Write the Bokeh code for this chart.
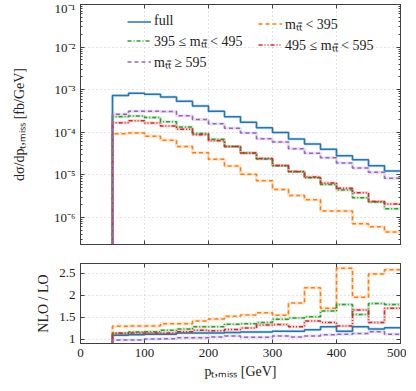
from bokeh.plotting import figure
from bokeh.layouts import column
from bokeh.models import (Legend, LegendItem, LogAxis, LinearAxis, FixedTicker,
                          CustomJSTickFormatter, Range1d, LogTicker)
from bokeh.embed import file_html
from bokeh.resources import INLINE

# ---------------- data ----------------
edges = [25, 50, 75, 100, 125, 150, 175, 200, 225, 250, 275, 300, 325, 350,
         375, 400, 425, 450, 475, 500]

xs_full = [0, 7.3e-4, 8.2e-4, 7.8e-4, 6.7e-4, 5.3e-4, 4.1e-4, 3.1e-4, 2.3e-4,
           1.72e-4, 1.28e-4, 9.8e-5, 6.9e-5, 5.3e-5, 4.0e-5, 2.8e-5, 2.25e-5,
           1.62e-5, 1.23e-5]
xs_lt395 = [0, 9.2e-5, 9.6e-5, 8.0e-5, 6.5e-5, 4.6e-5, 3.3e-5, 2.3e-5, 1.6e-5,
            1.03e-5, 7.2e-6, 4.5e-6, 3.25e-6, 2.6e-6, 1.4e-6, 1.4e-6, 7.1e-7,
            6.0e-7, 4.5e-7]
xs_395_495 = [0, 2.3e-4, 2.4e-4, 2.2e-4, 1.75e-4, 1.33e-4, 9.3e-5, 6.8e-5,
              4.6e-5, 3.25e-5, 2.35e-5, 1.63e-5, 1.18e-5, 8.5e-6, 5.9e-6,
              4.4e-6, 2.9e-6, 2.3e-6, 1.6e-6]
xs_495_595 = [0, 1.66e-4, 1.85e-4, 1.65e-4, 1.4e-4, 1.17e-4, 8.7e-5, 6.3e-5,
              4.6e-5, 3.25e-5, 2.4e-5, 1.66e-5, 1.2e-5, 8.9e-6, 6.4e-6, 4.8e-6,
              3.8e-6, 2.35e-6, 2.05e-6]
xs_ge595 = [0, 2.65e-4, 3.1e-4, 3.1e-4, 3.05e-4, 2.45e-4, 2.0e-4, 1.58e-4,
            1.23e-4, 9.6e-5, 7.0e-5, 5.9e-5, 4.1e-5, 3.2e-5, 2.5e-5, 1.9e-5,
            1.45e-5, 1.15e-5, 8.3e-6]

r_full = [0, 1.09, 1.10, 1.11, 1.11, 1.14, 1.14, 1.14, 1.15, 1.16, 1.16, 1.18,
          1.18, 1.21, 1.28, 1.18, 1.28, 1.23, 1.26]
r_lt395 = [0, 1.29, 1.30, 1.30, 1.35, 1.35, 1.41, 1.46, 1.52, 1.55, 1.60, 1.54,
           1.82, 2.17, 1.70, 2.61, 1.95, 2.48, 2.58]
r_395_495 = [0, 1.14, 1.16, 1.17, 1.20, 1.23, 1.28, 1.28, 1.34, 1.35, 1.38,
             1.45, 1.48, 1.51, 1.64, 1.79, 1.56, 1.81, 1.79]
r_495_595 = [0, 1.13, 1.14, 1.14, 1.14, 1.17, 1.20, 1.19, 1.22, 1.25, 1.32,
             1.33, 1.28, 1.41, 1.38, 1.30, 1.66, 1.38, 1.70]
r_ge595 = [0, 0.98, 0.98, 1.00, 1.01, 1.03, 1.03, 1.05, 1.07, 1.04, 1.04, 1.07,
           1.05, 1.07, 1.10, 1.11, 1.13, 1.17, 1.11]

labels = ["full", "mₜₜ̄ < 395", "395 ≤ mₜₜ̄ < 495", "495 ≤ mₜₜ̄ < 595",
          "mₜₜ̄ ≥ 595"]
colors = ["#1f77b4", "#ff7f0e", "#2ca02c", "#d62728", "#9467bd"]
dashes = ["solid", "4 3", "4 2 1 2", "4 2 1 2 1 2", "4 3"]

x_ticks = [0, 100, 200, 300, 400, 500]
r_ticks = [1, 1.5, 2, 2.5]
r_tick_labels = {1: "1", 1.5: "1.5", 2: "2", 2.5: "2.5"}

FONT = "Liberation Serif"
AXC = "#404040"
GRIDC = "#c8c8c8"

tops = [xs_full, xs_lt395, xs_395_495, xs_495_595, xs_ge595]
rats = [r_full, r_lt395, r_395_495, r_495_595, r_ge595]

blank_fmt = CustomJSTickFormatter(code="return '';")


def style_axis(ax, labels=True):
    ax.axis_line_color = AXC
    ax.major_tick_line_color = AXC
    ax.minor_tick_line_color = AXC
    ax.major_tick_in = 4
    ax.major_tick_out = 0
    ax.minor_tick_in = 2
    ax.minor_tick_out = 0
    ax.major_label_text_font = FONT
    ax.major_label_text_font_size = "13px"
    ax.major_label_text_color = "#222222"
    ax.axis_label_text_font = FONT
    ax.axis_label_text_font_size = "14px"
    ax.axis_label_text_font_style = "normal"
    ax.axis_label_text_color = "#222222"
    if not labels:
        ax.formatter = blank_fmt
        ax.major_label_standoff = 0


sup_fmt = CustomJSTickFormatter(code="""
const e = Math.round(Math.log10(tick));
const sup = {"-":"\u207b","0":"\u2070","1":"\u00b9","2":"\u00b2","3":"\u00b3",
             "4":"\u2074","5":"\u2075","6":"\u2076","7":"\u2077","8":"\u2078","9":"\u2079"};
return "10" + String(e).split("").map(c => sup[c]).join("");
""")

# ---------------- top panel ----------------
top = figure(frame_width=320, frame_height=240, y_axis_type="log",
             x_range=Range1d(0, 500), y_range=Range1d(2.3e-7, 0.1),
             output_backend="svg", toolbar_location=None,
             min_border_left=80, min_border_right=6, min_border_top=4,
             min_border_bottom=4)
top.outline_line_color = AXC
top.xaxis.ticker = FixedTicker(ticks=x_ticks)
top.yaxis.ticker = LogTicker(num_minor_ticks=10)
top.yaxis.formatter = sup_fmt
top.yaxis.axis_label = "dσ/dpₜ,ₘᵢₛₛ [fb/GeV]"
style_axis(top.xaxis[0], labels=False)
style_axis(top.yaxis[0])
top.yaxis.axis_label_standoff = 24
top.xaxis.minor_tick_line_color = None

ax_r = LogAxis(ticker=LogTicker(num_minor_ticks=10))
style_axis(ax_r, labels=False)
top.add_layout(ax_r, "right")
ax_t = LinearAxis(ticker=FixedTicker(ticks=x_ticks))
style_axis(ax_t, labels=False)
ax_t.minor_tick_line_color = None
top.add_layout(ax_t, "above")

top.xgrid.ticker = FixedTicker(ticks=x_ticks)
for g in (top.xgrid[0], top.ygrid[0]):
    g.grid_line_color = GRIDC
    g.grid_line_dash = "1 3"

items = []
for vals, lab, c, d in zip(tops, labels, colors, dashes):
    yv = [v if v > 0 else 1e-12 for v in vals] + [vals[-1]]
    top.step(x=edges, y=yv, mode="after", line_color=c, line_width=3,
             line_alpha=0.22)
    r = top.step(x=edges, y=yv, mode="after", line_color=c, line_width=1.5,
                 line_dash=d)
    items.append(LegendItem(label=lab, renderers=[r]))

leg_kw = dict(border_line_alpha=0, background_fill_alpha=0,
              label_text_font=FONT, label_text_font_size="14px",
              label_text_color="#222222", glyph_width=24, glyph_height=15,
              label_height=15, spacing=2, padding=0, margin=0,
              label_standoff=3)
legend1 = Legend(items=[items[0], items[2], items[4]], location=(47, 173),
                 **leg_kw)
legend2 = Legend(items=[items[1], items[3]], location=(178, 190), **leg_kw)
top.add_layout(legend1)
top.add_layout(legend2)

# ---------------- ratio panel ----------------
bot = figure(frame_width=320, frame_height=80, x_range=top.x_range,
             y_range=Range1d(0.9, 2.72), output_backend="svg",
             toolbar_location=None, min_border_left=80, min_border_right=6,
             min_border_top=4, min_border_bottom=2)
bot.outline_line_color = AXC
bot.xaxis.ticker = FixedTicker(ticks=x_ticks)
bot.yaxis.ticker = FixedTicker(ticks=r_ticks)
bot.yaxis.major_label_overrides = r_tick_labels
bot.xaxis.axis_label = "pₜ,ₘᵢₛₛ [GeV]"
bot.yaxis.axis_label = "NLO / LO"
style_axis(bot.xaxis[0])
style_axis(bot.yaxis[0])
bot.xaxis.axis_label_standoff = 4
bot.xaxis.minor_tick_line_color = None
bot.yaxis.minor_tick_line_color = None
ax_r2 = LinearAxis(ticker=FixedTicker(ticks=r_ticks))
style_axis(ax_r2, labels=False)
ax_r2.minor_tick_line_color = None
bot.add_layout(ax_r2, "right")
ax_t2 = LinearAxis(ticker=FixedTicker(ticks=x_ticks))
style_axis(ax_t2, labels=False)
ax_t2.minor_tick_line_color = None
bot.add_layout(ax_t2, "above")
bot.xgrid.ticker = FixedTicker(ticks=x_ticks)
for g in (bot.xgrid[0], bot.ygrid[0]):
    g.grid_line_color = GRIDC
    g.grid_line_dash = "1 3"

for vals, c, d in zip(rats, colors, dashes):
    yv = list(vals) + [vals[-1]]
    bot.step(x=edges, y=yv, mode="after", line_color=c, line_width=3,
             line_alpha=0.22)
    bot.step(x=edges, y=yv, mode="after", line_color=c, line_width=1.5,
             line_dash=d)

p = column(top, bot, spacing=11)
open("out.html", "w").write(file_html(p, INLINE))
